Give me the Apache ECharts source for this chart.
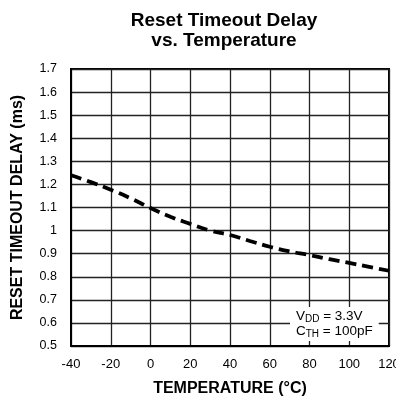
<!DOCTYPE html>
<html>
<head>
<meta charset="utf-8">
<script src="https://cdn.jsdelivr.net/npm/echarts@6/dist/echarts.min.js"></script>
<style>
  html, body { margin: 0; padding: 0; background: #fff; }
  #main { width: 396px; height: 402px; }
</style>
</head>
<body>
<div id="main"></div>
<script>
// temperature (°C) vs reset timeout delay (ms)
var temps = [-40, -30, -20, -10, 0, 10, 20, 30, 40, 50, 60, 70, 80, 90, 100, 110, 120];
var delays = [1.24, 1.21, 1.177, 1.14, 1.098, 1.06, 1.029, 1.0, 0.981, 0.955, 0.93, 0.91, 0.894, 0.876, 0.86, 0.843, 0.826];
var yTicks = [0.5, 0.6, 0.7, 0.8, 0.9, 1, 1.1, 1.2, 1.3, 1.4, 1.5, 1.6, 1.7];
var xTicks = [-40, -20, 0, 20, 40, 60, 80, 100, 120];

var font = "Liberation Sans, Arial, Helvetica, sans-serif";
var chart = echarts.init(document.getElementById("main"));

var points = temps.map(function (t, i) {
  return [t, delays[i]];
});

var option = {
  animation: false,
  backgroundColor: "#fff",
  title: {
    text: "Reset Timeout Delay\nvs. Temperature",
    left: 219,
    top: 6,
    textAlign: "center",
    textStyle: {
      fontFamily: font,
      fontSize: 19,
      fontWeight: "bold",
      color: "#000",
      lineHeight: 20,
    },
  },
  grid: {
    left: 71,
    right: 7,
    top: 69,
    bottom: 56,
    outerBoundsMode: "none",
    show: true,
    borderColor: "#000",
    borderWidth: 2,
  },
  xAxis: {
    type: "value",
    min: xTicks[0],
    max: xTicks[xTicks.length - 1],
    interval: 20,
    name: "TEMPERATURE (°C)",
    nameLocation: "middle",
    nameGap: 35,
    nameTextStyle: { fontFamily: font, fontSize: 16, fontWeight: "bold", color: "#000" },
    axisLine: { show: true, onZero: false, lineStyle: { color: "#000", width: 2 } },
    axisTick: { show: false },
    axisLabel: {
      margin: 12,
      fontFamily: font,
      fontSize: 13,
      color: "#000",
      showMaxLabel: true,
      hideOverlap: false,
    },
    splitLine: { show: true, lineStyle: { color: "#222", width: 1.3 } },
  },
  yAxis: {
    type: "value",
    min: yTicks[0],
    max: yTicks[yTicks.length - 1],
    interval: 0.1,
    name: "RESET TIMEOUT DELAY (ms)",
    nameLocation: "middle",
    nameGap: 45,
    nameTextStyle: { fontFamily: font, fontSize: 16, fontWeight: "bold", color: "#000" },
    axisLine: { show: true, onZero: false, lineStyle: { color: "#000", width: 2 } },
    axisTick: { show: false },
    axisLabel: {
      margin: 14,
      fontFamily: font,
      fontSize: 12.5,
      color: "#000",
      formatter: function (v) {
        return String(+v.toFixed(1));
      },
    },
    splitLine: { show: true, lineStyle: { color: "#222", width: 1.3 } },
  },
  series: [
    {
      type: "line",
      data: points,
      smooth: true,
      symbol: "none",
      lineStyle: { color: "#000", width: 3.8, type: [11, 6] },
      z: 5,
    },
  ],
  graphic: [
    {
      type: "text",
      left: 290,
      top: 307,
      z: 10,
      style: {
        text: "{n|V}{s|DD}{n| = 3.3V}\n{n|C}{s|TH}{n| = 100pF}",
        backgroundColor: "#fff",
        padding: [2, 6, 2, 6],
        align: "center",
        rich: {
          n: { fontFamily: font, fontSize: 13.5, color: "#000", lineHeight: 15 },
          s: { fontFamily: font, fontSize: 10, color: "#000", lineHeight: 15, verticalAlign: "bottom", padding: [4, 0, 0, 0] },
        },
      },
    },
  ],
};

chart.setOption(option);
</script>
</body>
</html>
